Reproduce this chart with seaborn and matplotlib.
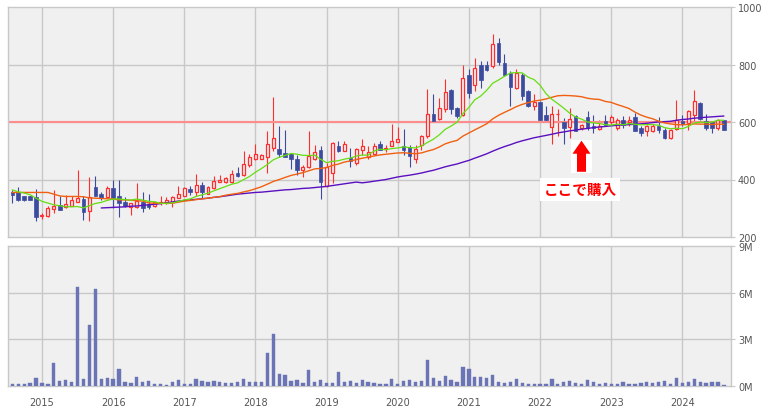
import numpy as np
import pandas as pd
import matplotlib
matplotlib.use("Agg")
import matplotlib.pyplot as plt
from matplotlib.patches import Rectangle, FancyArrow
import seaborn as sns

# ---- data (monthly candles, Aug 2014 .. Aug 2024) ----
first_month = "2014-08"
opens = [355, 355, 341, 341, 338, 274, 273, 297, 310, 304, 309, 323, 333, 290, 375, 350, 338, 372, 341, 323,
         304, 304, 321, 315, 307, 317, 318, 323, 334, 343, 368, 355, 381, 350, 369, 392, 390, 392, 424, 415,
         449, 471, 473, 478, 511, 506, 492, 487, 471, 434, 443, 471, 504, 376, 424, 518, 500, 475, 457, 501,
         480, 487, 523, 506, 515, 529, 516, 512, 471, 521, 550, 629, 611, 646, 713, 648, 626, 765, 728, 797,
         797, 794, 874, 806, 769, 719, 765, 707, 657, 671, 626, 583, 627, 599, 583, 620, 579, 618, 587, 576,
         603, 599, 579, 608, 599, 618, 579, 568, 568, 585, 573, 544, 576, 603, 597, 626, 667, 603, 599, 579, 606]
highs = [362, 373, 344, 342, 367, 285, 308, 364, 341, 347, 341, 434, 341, 407, 413, 355, 378, 399, 397, 338,
         320, 387, 357, 350, 323, 343, 338, 341, 378, 373, 378, 420, 390, 378, 413, 416, 407, 432, 443, 498,
         488, 525, 490, 570, 686, 587, 573, 492, 485, 451, 568, 521, 518, 457, 529, 535, 535, 509, 509, 541,
         518, 527, 533, 520, 594, 582, 577, 521, 521, 556, 716, 696, 682, 748, 715, 652, 800, 785, 824, 812,
         811, 905, 891, 835, 777, 785, 769, 711, 698, 672, 657, 655, 645, 614, 649, 626, 594, 637, 626, 608,
         623, 626, 614, 620, 620, 632, 585, 591, 594, 618, 579, 576, 678, 626, 643, 711, 669, 629, 603, 611, 606]
lows = [320, 325, 326, 328, 254, 262, 271, 285, 293, 300, 308, 323, 259, 257, 341, 329, 338, 300, 271, 306,
        277, 300, 288, 297, 304, 312, 314, 306, 334, 341, 345, 343, 335, 350, 366, 390, 387, 387, 408, 413,
        442, 469, 471, 424, 499, 478, 478, 438, 416, 408, 440, 469, 331, 373, 387, 494, 498, 445, 451, 486,
        471, 485, 501, 494, 515, 529, 486, 445, 459, 504, 544, 602, 608, 634, 629, 615, 622, 683, 707, 719,
        777, 789, 800, 760, 657, 715, 676, 652, 643, 606, 602, 525, 550, 525, 544, 568, 573, 573, 562, 573,
        585, 594, 573, 579, 585, 568, 553, 550, 564, 562, 541, 541, 571, 585, 571, 603, 608, 573, 562, 571, 571]
closes = [345, 329, 329, 329, 268, 276, 300, 308, 294, 314, 329, 335, 288, 338, 343, 335, 370, 335, 318, 308,
          318, 326, 301, 306, 321, 322, 329, 338, 350, 369, 355, 381, 355, 373, 395, 399, 405, 420, 413, 455,
          479, 490, 485, 523, 544, 487, 478, 473, 434, 443, 483, 497, 390, 443, 527, 498, 523, 466, 506, 515,
          494, 518, 501, 511, 534, 542, 501, 483, 506, 552, 629, 602, 649, 706, 646, 620, 754, 701, 789, 746,
          781, 870, 808, 762, 722, 769, 690, 655, 669, 608, 606, 628, 629, 579, 612, 568, 591, 579, 579, 587,
          591, 618, 608, 591, 608, 568, 562, 585, 587, 571, 544, 573, 606, 594, 637, 672, 611, 579, 578, 606, 571]
volume_m = [0.13, 0.13, 0.13, 0.19, 0.51, 0.19, 0.13, 1.48, 0.32, 0.39, 0.26, 6.36, 0.45, 3.92, 6.23, 0.45,
            0.51, 0.45, 1.09, 0.26, 0.19, 0.58, 0.26, 0.32, 0.13, 0.13, 0.06, 0.26, 0.39, 0.13, 0.13, 0.45,
            0.32, 0.26, 0.32, 0.26, 0.19, 0.19, 0.26, 0.45, 0.26, 0.26, 0.26, 2.12, 3.34, 0.77, 0.71, 0.32,
            0.39, 0.19, 1.03, 0.26, 0.39, 0.19, 0.19, 0.90, 0.26, 0.32, 0.19, 0.39, 0.26, 0.19, 0.13, 0.13,
            0.45, 0.13, 0.32, 0.39, 0.26, 0.32, 1.67, 0.51, 0.32, 0.64, 0.39, 0.26, 1.22, 1.09, 0.58, 0.58,
            0.51, 0.71, 0.26, 0.19, 0.26, 0.45, 0.19, 0.13, 0.13, 0.13, 0.13, 0.45, 0.13, 0.26, 0.32, 0.19,
            0.13, 0.39, 0.26, 0.13, 0.19, 0.13, 0.13, 0.26, 0.13, 0.13, 0.19, 0.26, 0.19, 0.26, 0.32, 0.13,
            0.51, 0.19, 0.26, 0.45, 0.26, 0.19, 0.26, 0.26, 0.06]

# moving-average values read off the chart where the averaging window
# reaches back before the first candle shown
ma9_head = [364, 357, 353, 347, 335, 324, 318, 312]
ma24_head = [355, 355, 355, 355, 355, 355, 355, 349, 343, 341, 341, 341, 340, 336, 335, 334, 333, 332, 329,
             329, 328, 326, 325]
ma60_head_start = 15
ma60_head = [301, 302, 303, 304, 305, 307, 308, 310, 312, 314, 316, 319, 322, 325, 327, 329, 331, 333, 335,
             338, 340, 343, 346, 349, 351, 353, 355, 356, 358, 360, 362, 364, 365, 367, 369, 370, 372, 374,
             376, 379, 382, 385, 388, 391]

year_labels = ["2015", "2016", "2017", "2018", "2019", "2020", "2021", "2022", "2023", "2024"]
price_ticks = [200, 400, 600, 800, 1000]
volume_ticks = [0, 3, 6, 9]
target_price = 600
note_text = "ここで購入"

# ---- style ----
sns.set_theme(style="white")
plt.rcParams['font.family'] = ['DejaVu Sans', 'Noto Sans CJK JP']

BG = "#f0f0f0"
GRID = "#c8c8c8"
RED = "#ff2e2e"
BLUE = "#3c4b9e"
VOL = "#6b74b4"
TXT = "#555555"

n = len(closes)
df = pd.DataFrame({"m": np.arange(n), "open": opens, "high": highs, "low": lows,
                   "close": closes, "vol": volume_m})
df["date"] = pd.period_range(first_month, periods=n, freq="M")
cs = df["close"]
ma9 = cs.rolling(9).mean()
ma9.iloc[:len(ma9_head)] = ma9_head
ma24 = cs.rolling(24).mean()
ma24.iloc[:len(ma24_head)] = ma24_head
ma60 = cs.rolling(60).mean()
ma60.iloc[ma60_head_start:ma60_head_start + len(ma60_head)] = ma60_head
df["ma9"], df["ma24"], df["ma60"] = ma9, ma24, ma60

year_pos = [df.index[(df["date"].dt.year == int(y)) & (df["date"].dt.month == 1)][0] for y in year_labels]

W, H = 770, 414
fig = plt.figure(figsize=(W / 100, H / 100), dpi=100)
fig.patch.set_facecolor("white")
L, R = 8, 731
ax1 = fig.add_axes([L / W, 1 - 238 / H, (R - L) / W, (238 - 8) / H])
ax2 = fig.add_axes([L / W, 1 - 387 / H, (R - L) / W, (387 - 247) / H])

xmin = (L - 12.3) / 5.93
xmax = (R - 12.3) / 5.93

for ax in (ax1, ax2):
    ax.set_facecolor(BG)
    ax.set_xlim(xmin, xmax)
    for s in ax.spines.values():
        s.set_color(GRID)
        s.set_linewidth(1.0)
    for xp in year_pos:
        ax.axvline(xp, color=GRID, lw=1.0, zorder=0)
    ax.yaxis.tick_right()
    ax.tick_params(axis="y", which="both", right=True, left=False, length=3, width=0.8,
                   color=GRID, pad=2, labelsize=7, labelcolor=TXT)

# price panel
ax1.set_ylim(200, 1000)
ax1.set_yticks(price_ticks)
ax1.set_yticklabels([str(t) for t in price_ticks])
for t in price_ticks[1:-1]:
    ax1.axhline(t, color=GRID, lw=1.0, zorder=0)
ax1.set_xticks([])

up = df["close"] >= df["open"]
bw = 0.5
for _, r in df.iterrows():
    c = RED if r["close"] >= r["open"] else BLUE
    ax1.vlines(r["m"], r["low"], r["high"], color=c, lw=0.8, zorder=2)
d_up = df[up]
d_dn = df[~up]
ax1.bar(d_up["m"], d_up["close"] - d_up["open"], bottom=d_up["open"], width=bw,
        facecolor=BG, edgecolor=RED, linewidth=0.9, zorder=3)
ax1.bar(d_dn["m"], d_dn["open"] - d_dn["close"], bottom=d_dn["close"], width=bw + 0.1,
        facecolor=BLUE, edgecolor=BLUE, linewidth=0.5, zorder=3)

ax1.axhline(target_price, color="#ff8c8c", lw=1.5, zorder=2.5)

sns.lineplot(data=df, x="m", y="ma60", ax=ax1, color="#5a10c0", lw=1.0, zorder=4)
sns.lineplot(data=df, x="m", y="ma24", ax=ax1, color="#f06010", lw=1.0, zorder=4)
sns.lineplot(data=df, x="m", y="ma9", ax=ax1, color="#66dd11", lw=0.9, zorder=4)
ax1.set_xlabel("")
ax1.set_ylabel("")

# annotation: arrow + label
def px2x(px):
    return (px - 12.3) / 5.93

def py2p(py):
    return 200 + (237 - py) * 3.49

ax1.add_patch(Rectangle((px2x(571), py2p(173)), px2x(592) - px2x(571), py2p(140) - py2p(173),
                        facecolor="white", edgecolor="none", zorder=5))
ax1.add_patch(FancyArrow(px2x(581.5), py2p(172), 0, py2p(141) - py2p(172),
                         width=px2x(586) - px2x(577), head_width=px2x(590.5) - px2x(572.5),
                         head_length=py2p(141) - py2p(154), length_includes_head=True,
                         facecolor="#ff0000", edgecolor="none", zorder=6))
ax1.text(px2x(580), py2p(189.5), note_text, color="#ff0000", fontsize=10.5, fontweight="bold",
         family=["Noto Sans CJK JP", "DejaVu Sans"], ha="center", va="center", zorder=7,
         bbox=dict(boxstyle="square,pad=0.25", facecolor="white", edgecolor="none"))

# volume panel
ax2.set_ylim(0, 9)
ax2.set_yticks(volume_ticks)
ax2.set_yticklabels([f"{t}M" for t in volume_ticks])
for t in volume_ticks[1:-1]:
    ax2.axhline(t, color=GRID, lw=1.0, zorder=0)
ax2.bar(df["m"], df["vol"], width=0.55, facecolor=VOL, edgecolor=VOL, linewidth=0.3, zorder=3)
ax2.set_xticks(year_pos)
ax2.set_xticklabels(year_labels)
ax2.tick_params(axis="x", length=0, pad=8, labelsize=7, labelcolor=TXT)

fig.savefig("out.png", dpi=100, facecolor="white")
